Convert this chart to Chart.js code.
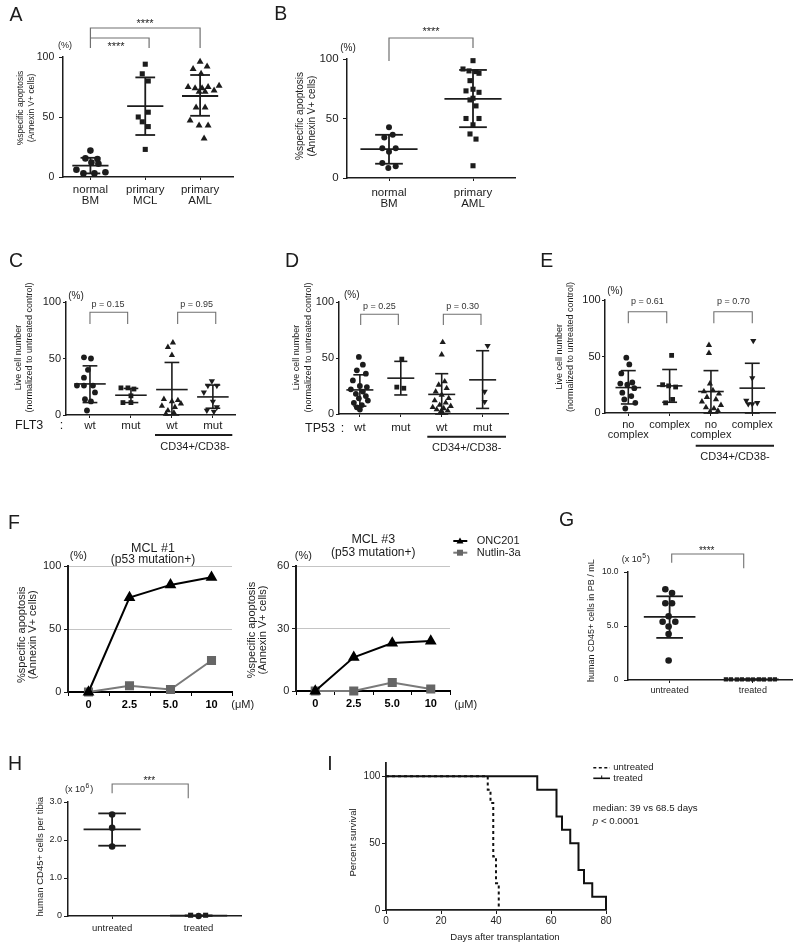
<!DOCTYPE html>
<html><head><meta charset="utf-8">
<script src="https://cdn.jsdelivr.net/npm/chart.js@4.4.1/dist/chart.umd.min.js"></script>
<style>
html,body{margin:0;padding:0;background:#fff;}
#wrap{position:relative;width:800px;height:949px;overflow:hidden;background:#fff;}
#wrap canvas{position:absolute;left:0;top:0;}
</style></head><body><div id="wrap"></div>
<script>
// ================= DATA =================
// Panel A
const catsA = [['normal','BM'],['primary','MCL'],['primary','AML']];
const aNormalBM = [22, 15.5, 15, 12, 11, 6, 4, 3, 3];
const aPrimaryMCL = [94, 86, 80, 54, 50, 46, 42, 23];
const aPrimaryAML = [96, 90, 92, 86, 75, 74, 74, 75, 76, 72, 71, 71, 58, 58, 47, 43, 43, 32];
const aMean = [9.5, 59, 67.5];
const aSDHigh = [16, 83, 85];
const aSDLow = [3, 35, 51];
// Panel B
const catsB = [['normal','BM'],['primary','AML']];
const bNormalBM = [42.7, 34.1, 36.3, 25.1, 25.1, 22.1, 12.6, 9.8, 8.4];
const bPrimaryAML = [98.6, 91.6, 90, 89.4, 88, 81.8, 74.6, 73.2, 72, 67, 65.6, 60.6, 50, 44.7, 50, 37, 32.7, 10.3];
const bMean = [24.3, 66.5];
const bSDHigh = [36.3, 90.8];
const bSDLow = [12, 42.7];
// Panel C (FLT3)
const catsC = ['wt','mut','wt','mut'];
const cFLT3wt = [51, 50, 40, 33, 26, 26, 26, 20, 14, 12, 4];
const cFLT3mut = [24, 24, 23, 17, 11, 11];
const cCD34wt = [64, 60, 53, 14, 13, 12, 10, 8, 7, 4, 2, 1];
const cCD34mut = [30, 26, 26, 20, 12, 7, 4, 3];
const cMean = [27.5, 17.5, 22.5, 16];
const cSDHigh = [43.5, 23.5, 46.5, 26.5];
const cSDLow = [11, 11, 0, 6];
// Panel D (TP53)
const catsD = ['wt','mut','wt','mut'];
const dTP53wt = [51, 44, 39, 36, 30, 25, 24, 22, 20, 18, 16, 14, 12, 10, 8, 6, 4];
const dTP53mut = [49, 24, 23];
const dCD34wt = [64, 53, 29, 26, 23, 20, 17, 14, 12, 10, 8, 7, 6, 5, 4, 3, 2, 1];
const dCD34mut = [61, 20, 11];
const dMean = [21.5, 32, 17.5, 30.5];
const dSDHigh = [35, 47, 36, 56.5];
const dSDLow = [7, 17, 0, 5];
// Panel E (karyotype)
const catsE = [['no','complex'],'complex',['no','complex'],'complex'];
const eNoComplex = [49, 43, 35, 27, 26, 25, 22, 18, 15, 12, 9, 4];
const eComplex = [51, 25, 24, 23, 12, 9];
const eCD34NoComplex = [60, 53, 26, 20, 19, 17, 14, 12, 10, 7, 5, 4, 2, 1];
const eCD34Complex = [64, 31, 11, 9, 8, 8];
const eMean = [22.5, 24, 19, 22];
const eSDHigh = [37.5, 38.5, 37.5, 44];
const eSDLow = [8, 9.5, 0, 0];
// Panel F (dose response)
const fDoses = ['0','2.5','5.0','10'];
const f1ONC201 = [0, 75, 85, 91];
const f1Nutlin = [0, 5, 2, 25];
const f3ONC201 = [0, 16.2, 23, 24];
const f3Nutlin = [0, 0, 4.1, 1];
// Panel G (x 10^5 / mL)
const catsG = ['untreated','treated'];
const gUntreated = [8.4, 8.05, 7.1, 7.1, 5.9, 5.4, 5.4, 4.95, 4.25, 1.8];
const gTreated = [0.06, 0.06, 0.05, 0.06, 0.05, 0.05, 0.06, 0.05, 0.06, 0.06];
const gMean = [5.85, 0.05];
const gSDHigh = [7.75, 0.05];
const gSDLow = [3.9, 0.05];
// Panel H (x 10^6 / tibia)
const catsH = ['untreated','treated'];
const hUntreated = [2.67, 2.32, 1.83];
const hTreated = [0.02, 0.0, 0.02];
const hMean = [2.28, 0.01];
const hSDHigh = [2.7, 0.01];
const hSDLow = [1.85, 0.01];
// Panel I (Kaplan-Meier)
const iUntreatedDays = [0, 37, 38, 39, 40, 41];
const iUntreatedSurv = [100, 90, 80, 40, 20, 0];
const iTreatedDays = [0, 55, 62, 64, 67, 70, 72, 75, 80];
const iTreatedSurv = [100, 90, 70, 60, 50, 30, 20, 10, 0];

// ================= LAYOUT (positions / styles) =================
const jA = [[0,-5,7,1,8,-14,15,-7,4],[0,-3,3,3,-7,-3,3,0],[0,-7,7,1,-12,-5,2,8,19,14,-1,5,-4,5,-10,-1,8,4]];
const jB = [[0,-4.7,3.7,-6.7,6.7,0,-6.7,6.7,-0.7],[0,-10,-4,3,6,-3,0,-7,6,0,-3,3,-7,0,6,-3,3,0]];
const jC = [[-6,1,-2,-6,-13,-6,3,5,-5,1,-3],[-10,-3,3,0,-8,0],[1,-4,0,-8,6,0,9,-10,3,-4,2,-6],[-1,-5,4,-9,0,4,-6,1]];
const jD = [[-1,3,-3,6,-7,0,7,-9,3,-4,6,-1,8,-6,2,-3,0],[1,-4,3],[1,0,3,-3,5,-6,0,7,-7,4,-2,9,-9,2,-5,6,-1,1],[5,2,2]];
const jE = [[-2,1,-7,4,-8,-1,6,-6,3,-4,7,-3],[2,-7,-1,6,3,-4],[-2,-2,-1,2,-7,8,-4,5,-9,10,-5,3,7,-1],[1,0,-6,5,0,-4]];
const jG = [[-4.3,2.4,-4.3,2.4,-1,-7,5.7,-1,-1,-1],[-27,-22,-16,-11,-5,0,6,11,17,22]];
const jH = [[0,0,0],[-8,0,7]];

const FF = '"Liberation Sans", Arial, Helvetica, sans-serif';
const INK = '#1c1c1c';
const BR = '#707070';
Chart.defaults.font.family = FF;
Chart.defaults.color = INK;
const wrap = document.getElementById('wrap');

function txt(ctx, s, x, y, size, o) {
  o = o || {};
  ctx.save();
  ctx.font = (o.style || 'normal') + ' ' + (o.weight || 'normal') + ' ' + size + 'px ' + FF;
  ctx.fillStyle = o.color || INK;
  ctx.textAlign = o.align || 'center';
  ctx.textBaseline = 'middle';
  if (o.rot) { ctx.translate(x, y); ctx.rotate(o.rot); ctx.fillText(s, 0, 0); }
  else ctx.fillText(s, x, y);
  ctx.restore();
}
function vtxt(ctx, s, x, y, size, o) { txt(ctx, s, x, y, size, Object.assign({rot: -Math.PI/2}, o || {})); }
function poly(ctx, pts, color, lw, dash) {
  ctx.save(); ctx.strokeStyle = color; ctx.lineWidth = lw; ctx.setLineDash(dash || []);
  ctx.beginPath(); pts.forEach((p, i) => i ? ctx.lineTo(p[0], p[1]) : ctx.moveTo(p[0], p[1])); ctx.stroke(); ctx.restore();
}
function sci(ctx, x, y, sup, size) {
  ctx.save(); ctx.fillStyle = INK; ctx.textAlign = 'left'; ctx.textBaseline = 'middle';
  ctx.font = size + 'px ' + FF; ctx.fillText('(x 10', x, y); const w = ctx.measureText('(x 10').width;
  ctx.font = (size * 0.75) + 'px ' + FF; ctx.fillText(sup, x + w + 0.5, y - size * 0.45); const w2 = ctx.measureText(sup).width;
  ctx.font = size + 'px ' + FF; ctx.fillText(')', x + w + w2 + 1.5, y); ctx.restore();
}

function makeChart(rect, type, data, scales, draw) {
  const c = document.createElement('canvas');
  c.width = 800; c.height = 949; c.style.width = '800px'; c.style.height = '949px';
  wrap.appendChild(c);
  const YW = 40, XH = 30;
  scales.x.afterFit = s => { s.height = XH; };
  scales.y.afterFit = s => { s.width = YW; };
  return new Chart(c, {
    type, data,
    options: {
      responsive: false, animation: false, events: [], devicePixelRatio: 1,
      layout: {autoPadding: false, padding: {left: rect.l - YW, top: rect.t, right: 800 - rect.r, bottom: 949 - rect.b - XH}},
      plugins: {legend: {display: false}, tooltip: {enabled: false}},
      scales
    },
    plugins: [{id: 'ann', afterDraw(ch) { draw(ch.ctx, ch, v => ch.scales.x.getPixelForValue(v)); }}]
  });
}
function yAxis(o) {
  return {
    type: 'linear', min: o.min, max: o.max,
    ticks: {stepSize: o.step, includeBounds: false, padding: o.pad, color: INK, font: {size: o.size}, callback: o.fmt || (v => String(v))},
    grid: {drawOnChartArea: !!o.grid, color: o.grid || INK, tickColor: INK, tickLength: o.tl, lineWidth: 1},
    border: {display: true, color: INK, width: o.bw || 1.5}
  };
}
function xCats(o) {
  return {
    type: 'linear', min: o.min, max: o.max,
    afterBuildTicks: s => { s.ticks = o.labels.map((_, i) => ({value: i})); },
    ticks: {autoSkip: false, maxRotation: 0, padding: o.pad, color: INK, font: {size: o.size, lineHeight: o.lh || 1.2}, callback: v => o.labels[v]},
    grid: {drawOnChartArea: false, tickColor: INK, color: INK, tickLength: o.tl},
    border: {display: true, color: INK, width: o.bw || 1.5}
  };
}
function dots(vals, jit, ci, sp, style, r, rot) {
  return {data: vals.map((v, k) => ({x: ci + jit[k] / sp, y: v})), pointStyle: style, pointRadius: r, pointRotation: rot || 0,
    backgroundColor: INK, borderColor: INK, borderWidth: 0, showLine: false, clip: false};
}
function errSets(means, ups, los, mw, cw, lw) {
  const out = [];
  const line = d => ({data: d, showLine: true, pointRadius: 0, borderColor: INK, borderWidth: lw, clip: false, fill: false});
  means.forEach((m, i) => {
    out.push(line([{x: i - mw, y: m}, {x: i + mw, y: m}]));
    out.push(line([{x: i - cw, y: ups[i]}, {x: i + cw, y: ups[i]}]));
    out.push(line([{x: i - cw, y: los[i]}, {x: i + cw, y: los[i]}]));
    out.push(line([{x: i, y: los[i]}, {x: i, y: ups[i]}]));
  });
  return out;
}
const spOf = (r, min, max) => (r.r - r.l) / (max - min);

// ---------- Panel A ----------
(function () {
  const r = {l: 63, t: 57, r: 233, b: 177}, mn = -0.5, mx = 2.6, sp = spOf(r, mn, mx);
  makeChart(r, 'scatter', {datasets: [
    dots(aNormalBM, jA[0], 0, sp, 'circle', 3.3),
    dots(aPrimaryMCL, jA[1], 1, sp, 'rect', 3.6),
    dots(aPrimaryAML, jA[2], 2, sp, 'triangle', 4),
    ...errSets(aMean, aSDHigh, aSDLow, 0.33, 0.18, 1.8)
  ]}, {
    x: xCats({labels: catsA, min: mn, max: mx, size: 11.5, lh: 0.96, pad: 4.5, tl: 3}),
    y: yAxis({min: 0, max: 100, step: 50, size: 10.5, pad: 4.7, tl: 4})
  }, (ctx, ch, X) => {
    txt(ctx, 'A', 16, 16, 19.5);
    txt(ctx, '(%)', 65, 46, 9);
    vtxt(ctx, '%specific apoptosis', 21, 108, 8.5);
    vtxt(ctx, '(Annexin V+ cells)', 32, 108, 8.5);
    poly(ctx, [[X(0), 48], [X(0), 28], [X(2), 28], [X(2), 48]], BR, 1.2);
    poly(ctx, [[X(0), 38], [X(1.07), 38], [X(1.07), 48]], BR, 1.2);
    txt(ctx, '****', 145, 24, 11);
    txt(ctx, '****', 116, 47, 11);
  });
})();

// ---------- Panel B ----------
(function () {
  const r = {l: 347, t: 59, r: 515, b: 178}, mn = -0.5, mx = 1.5, sp = spOf(r, mn, mx);
  makeChart(r, 'scatter', {datasets: [
    dots(bNormalBM, jB[0], 0, sp, 'circle', 3),
    dots(bPrimaryAML, jB[1], 1, sp, 'rect', 3.6),
    ...errSets(bMean, bSDHigh, bSDLow, 0.34, 0.165, 1.8)
  ]}, {
    x: xCats({labels: catsB, min: mn, max: mx, size: 11.5, lh: 0.96, pad: 6, tl: 3}),
    y: yAxis({min: 0, max: 100, step: 50, size: 11.5, pad: 4.4, tl: 4})
  }, (ctx, ch, X) => {
    txt(ctx, 'B', 280.7, 15, 19.5);
    txt(ctx, '(%)', 348, 48, 10);
    vtxt(ctx, '%specific apoptosis', 300.7, 116, 10);
    vtxt(ctx, '(Annexin V+ cells)', 312.3, 116, 10);
    poly(ctx, [[X(0), 61], [X(0), 38], [X(1), 38], [X(1), 48]], BR, 1.2);
    txt(ctx, '****', 431, 32, 11);
  });
})();

// ---------- Panels C, D, E ----------
function cdePanel(r, mn, mx, labels, groups, jit, means, ups, los, mw, cw, xo, yo, draw) {
  const sp = spOf(r, mn, mx);
  const styles = [['circle', 2.9, 0], ['rect', 3.4, 0], ['triangle', 3.6, 0], ['triangle', 3.6, 180]];
  const sets = groups.map((g, i) => dots(g, jit[i], i, sp, styles[i][0], styles[i][1], styles[i][2]));
  makeChart(r, 'scatter', {datasets: [...sets, ...errSets(means, ups, los, mw, cw, 1.6)]}, {
    x: xCats(Object.assign({labels, min: mn, max: mx}, xo)),
    y: yAxis(Object.assign({min: 0, max: 100, step: 50}, yo))
  }, draw);
}
cdePanel({l: 66, t: 302, r: 235, b: 415}, -0.585, 3.54, catsC, [cFLT3wt, cFLT3mut, cCD34wt, cCD34mut], jC,
  cMean, cSDHigh, cSDLow, 0.385, 0.18, {size: 11.5, lh: 0.96, pad: 2.2, tl: 3}, {size: 11, pad: 2, tl: 3},
  (ctx, ch, X) => {
    txt(ctx, 'C', 16, 262, 19.5);
    txt(ctx, '(%)', 76, 296, 10);
    vtxt(ctx, 'Live cell number', 18.3, 357.5, 9);
    vtxt(ctx, '(normalized to untreated control)', 30, 347.5, 9);
    poly(ctx, [[X(0), 324], [X(0), 312.3], [X(0.92), 312.3], [X(0.92), 324]], BR, 1.1);
    poly(ctx, [[X(2.14), 324], [X(2.14), 312.3], [X(3.07), 312.3], [X(3.07), 324]], BR, 1.1);
    txt(ctx, 'p = 0.15', 108, 305, 9, {color: '#333'});
    txt(ctx, 'p = 0.95', 196.7, 305, 9, {color: '#333'});
    txt(ctx, 'FLT3', 15, 425.7, 12.5, {align: 'left'});
    txt(ctx, ':', 61.5, 425.7, 12.5);
    poly(ctx, [[155, 435], [232.3, 435]], INK, 2);
    txt(ctx, 'CD34+/CD38-', 195, 446.7, 11);
  });
cdePanel({l: 339, t: 302, r: 508, b: 414}, -0.51, 3.62, catsD, [dTP53wt, dTP53mut, dCD34wt, dCD34mut], jD,
  dMean, dSDHigh, dSDLow, 0.33, 0.16, {size: 11.5, lh: 0.96, pad: 5.8, tl: 3}, {size: 11, pad: 2, tl: 3},
  (ctx, ch, X) => {
    txt(ctx, 'D', 292, 262, 19.5);
    txt(ctx, '(%)', 351.7, 295.7, 10);
    vtxt(ctx, 'Live cell number', 297, 357.5, 9);
    vtxt(ctx, '(normalized to untreated control)', 308.7, 347.5, 9);
    poly(ctx, [[X(0.02), 325], [X(0.02), 314.3], [X(0.94), 314.3], [X(0.94), 325]], BR, 1.1);
    poly(ctx, [[X(2.04), 325], [X(2.04), 314.3], [X(2.96), 314.3], [X(2.96), 325]], BR, 1.1);
    txt(ctx, 'p = 0.25', 379.3, 306.7, 9, {color: '#333'});
    txt(ctx, 'p = 0.30', 462.7, 306.7, 9, {color: '#333'});
    txt(ctx, 'TP53', 305, 428.3, 12.5, {align: 'left'});
    txt(ctx, ':', 342.5, 428.3, 12.5);
    poly(ctx, [[427.3, 436.7], [506, 436.7]], INK, 2);
    txt(ctx, 'CD34+/CD38-', 466.7, 448.3, 11);
  });
cdePanel({l: 605, t: 300, r: 775, b: 413}, -0.564, 3.55, catsE, [eNoComplex, eComplex, eCD34NoComplex, eCD34Complex], jE,
  eMean, eSDHigh, eSDLow, 0.31, 0.18, {size: 11, lh: 0.97, pad: 3.3, tl: 3}, {size: 11, pad: 1.3, tl: 3},
  (ctx, ch, X) => {
    txt(ctx, 'E', 546.7, 261.7, 19.5);
    txt(ctx, '(%)', 615, 291.7, 10);
    vtxt(ctx, 'Live cell number', 559.3, 356.7, 9);
    vtxt(ctx, '(normalized to untreated control)', 571, 347, 9);
    poly(ctx, [[X(0), 323.3], [X(0), 311.7], [X(0.93), 311.7], [X(0.93), 323.3]], BR, 1.1);
    poly(ctx, [[X(2.07), 323.3], [X(2.07), 311.7], [X(3), 311.7], [X(3), 323.3]], BR, 1.1);
    txt(ctx, 'p = 0.61', 647.3, 301.7, 9, {color: '#333'});
    txt(ctx, 'p = 0.70', 733.3, 301.7, 9, {color: '#333'});
    poly(ctx, [[695.7, 445.7], [774, 445.7]], INK, 2);
    txt(ctx, 'CD34+/CD38-', 735, 456.7, 11);
  });

// ---------- Panel F ----------
function fPanel(r, ymax, ystep, onc, nut, draw) {
  makeChart(r, 'line', {labels: fDoses, datasets: [
    {data: onc, borderColor: '#000', backgroundColor: '#000', pointBorderColor: '#000', pointStyle: 'triangle', pointRadius: 4.8, borderWidth: 2, clip: false},
    {data: nut, borderColor: '#7a7a7a', backgroundColor: '#666', pointBorderColor: '#666', pointStyle: 'rect', pointRadius: 5, borderWidth: 2, clip: false}
  ]}, {
    x: {type: 'category', offset: true, grid: {offset: true, drawOnChartArea: false, tickLength: 4, tickColor: '#000', color: '#000'},
        ticks: {font: {size: 11, weight: 'bold'}, color: '#000', padding: 2.7, maxRotation: 0, autoSkip: false},
        border: {display: true, color: '#000', width: 2}},
    y: yAxis({min: 0, max: ymax, step: ystep, size: 11, pad: 2.7, tl: 4, grid: '#c4c4c4', bw: 2})
  }, draw);
}
fPanel({l: 68, t: 566, r: 232, b: 692}, 100, 50, f1ONC201, f1Nutlin, (ctx) => {
  txt(ctx, 'F', 14, 523.3, 19.5);
  txt(ctx, 'MCL #1', 153, 548.3, 12.5);
  txt(ctx, '(p53 mutation+)', 153, 559.5, 12);
  txt(ctx, '(%)', 78.3, 556, 11);
  vtxt(ctx, '%specific apoptosis', 21.7, 634.7, 11);
  vtxt(ctx, '(Annexin V+ cells)', 33.3, 634.7, 11);
  txt(ctx, '(\u03bcM)', 242.7, 705, 11, {align: 'center'});
});
fPanel({l: 296, t: 566, r: 450, b: 691}, 60, 30, f3ONC201, f3Nutlin, (ctx) => {
  txt(ctx, 'MCL #3', 373.3, 540, 12.5);
  txt(ctx, '(p53 mutation+)', 373.3, 552.7, 12);
  txt(ctx, '(%)', 303.3, 556, 11);
  vtxt(ctx, '%specific apoptosis', 251.7, 630, 11);
  vtxt(ctx, '(Annexin V+ cells)', 263.3, 630, 11);
  txt(ctx, '(\u03bcM)', 465.7, 705, 11);
  // legend
  poly(ctx, [[453.3, 541], [467.3, 541]], '#000', 2);
  ctx.save(); ctx.fillStyle = '#000'; ctx.beginPath(); ctx.moveTo(460, 537.5); ctx.lineTo(463.5, 543.5); ctx.lineTo(456.5, 543.5); ctx.closePath(); ctx.fill(); ctx.restore();
  txt(ctx, 'ONC201', 476.7, 541, 11, {align: 'left'});
  poly(ctx, [[453.3, 552.7], [467.3, 552.7]], '#7a7a7a', 2);
  ctx.save(); ctx.fillStyle = '#666'; ctx.fillRect(457, 549.7, 6, 6); ctx.restore();
  txt(ctx, 'Nutlin-3a', 476.7, 552.7, 11, {align: 'left'});
});

// ---------- Panel G ----------
(function () {
  const r = {l: 628, t: 572, r: 792, b: 680}, mn = -0.5, mx = 1.47, sp = spOf(r, mn, mx);
  const fmt = v => v === 0 ? '0' : v.toFixed(1);
  makeChart(r, 'scatter', {datasets: [
    dots(gUntreated, jG[0], 0, sp, 'circle', 3.3),
    dots(gTreated, jG[1], 1, sp, 'rect', 3),
    ...errSets(gMean, gSDHigh, gSDLow, 0.31, 0.16, 1.8)
  ]}, {
    x: xCats({labels: catsG, min: mn, max: mx, size: 9, pad: 2.3, tl: 3}),
    y: yAxis({min: 0, max: 10, step: 5, size: 8.5, pad: 5.4, tl: 4, fmt})
  }, (ctx, ch, X) => {
    txt(ctx, 'G', 566.7, 520.7, 19.5);
    sci(ctx, 621.7, 560, '5', 9);
    vtxt(ctx, 'human CD45+ cells in PB / mL', 591.7, 620.7, 9);
    poly(ctx, [[X(0.025), 562.7], [X(0.025), 554], [X(0.89), 554], [X(0.89), 568.3]], BR, 1.1);
    txt(ctx, '****', 706.7, 551, 10);
  });
})();

// ---------- Panel H ----------
(function () {
  const r = {l: 68, t: 802, r: 241, b: 916}, mn = -0.51, mx = 1.49, sp = spOf(r, mn, mx);
  const fmt = v => v === 0 ? '0' : v.toFixed(1);
  const tr = dots(hTreated, jH[1], 1, sp, 'rect', 3.6);
  tr.pointStyle = ['rect', 'circle', 'rect'];
  tr.pointRadius = [3.6, 3.2, 3.6];
  makeChart(r, 'scatter', {datasets: [
    dots(hUntreated, jH[0], 0, sp, 'circle', 3.3),
    tr,
    ...errSets(hMean, hSDHigh, hSDLow, 0.33, 0.16, 1.8)
  ]}, {
    x: xCats({labels: catsH, min: mn, max: mx, size: 9.5, pad: 3.9, tl: 3}),
    y: yAxis({min: 0, max: 3, step: 1, size: 9, pad: 2, tl: 4, fmt})
  }, (ctx, ch, X) => {
    txt(ctx, 'H', 15, 765, 19.5);
    sci(ctx, 65, 790, '6', 9);
    vtxt(ctx, 'human CD45+ cells per tibia', 40.7, 856.7, 9.5);
    poly(ctx, [[X(0), 793.3], [X(0), 784], [X(0.88), 784], [X(0.88), 798.3]], BR, 1.1);
    txt(ctx, '***', 149.3, 781, 10);
  });
})();

// ---------- Panel I ----------
(function () {
  const r = {l: 386, t: 763, r: 606, b: 910};
  const km = (days, surv) => days.map((d, k) => ({x: d, y: surv[k]}));
  makeChart(r, 'scatter', {datasets: [
    {data: km(iTreatedDays, iTreatedSurv), showLine: true, stepped: true, pointRadius: 0, borderColor: '#111', borderWidth: 2, clip: false},
    {data: km(iUntreatedDays, iUntreatedSurv), showLine: true, stepped: true, pointRadius: 0, borderColor: '#111', borderWidth: 2, borderDash: [3, 3], clip: false}
  ]}, {
    x: {type: 'linear', min: 0, max: 80, ticks: {stepSize: 20, font: {size: 10}, color: INK, padding: 1.7},
        grid: {drawOnChartArea: false, tickLength: 4, tickColor: INK, color: INK}, border: {display: true, color: INK, width: 1.8}},
    y: yAxis({min: 0, max: 110, step: 50, size: 10, pad: 1.7, tl: 4, bw: 1.8})
  }, (ctx) => {
    txt(ctx, 'I', 330, 765, 19.5);
    vtxt(ctx, 'Percent survival', 353.3, 842.5, 9.6);
    txt(ctx, 'Days after transplantation', 505, 937.3, 9.6);
    poly(ctx, [[593.3, 767.7], [610, 767.7]], '#111', 1.6, [3, 2.5]);
    txt(ctx, 'untreated', 613.3, 767.7, 9.5, {align: 'left'});
    poly(ctx, [[593.3, 778.3], [610, 778.3]], '#111', 1.6);
    poly(ctx, [[601.7, 775.5], [601.7, 778.3]], '#111', 1);
    txt(ctx, 'treated', 613.3, 778.3, 9.5, {align: 'left'});
    txt(ctx, 'median: 39 vs 68.5 days', 592.7, 808.3, 9.7, {align: 'left'});
    txt(ctx, 'p', 592.7, 821.7, 9.7, {align: 'left', style: 'italic'});
    txt(ctx, ' < 0.0001', 598.2, 821.7, 9.7, {align: 'left'});
  });
})();
</script>
</body></html>
